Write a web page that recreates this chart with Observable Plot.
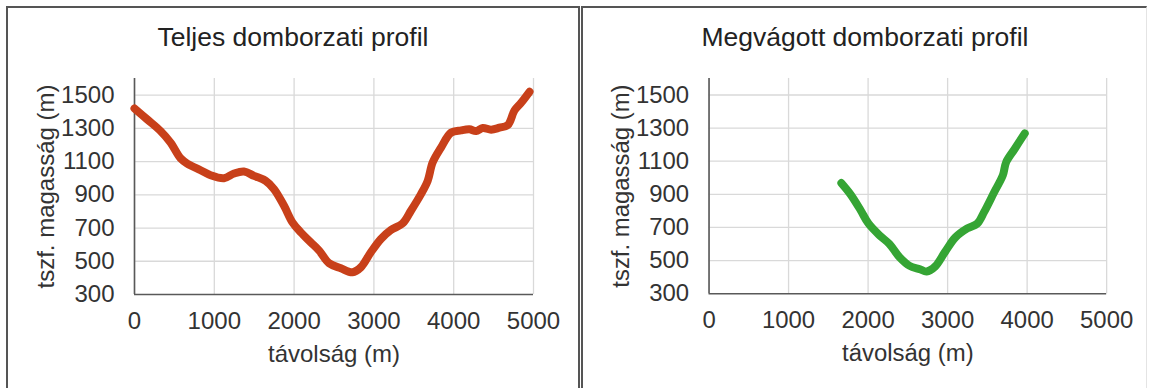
<!DOCTYPE html>
<html>
<head>
<meta charset="utf-8">
<script src="https://cdn.jsdelivr.net/npm/d3@7"></script>
<script src="https://cdn.jsdelivr.net/npm/@observablehq/plot@0.6"></script>
<style>
  html, body { margin: 0; padding: 0; background: #fff; }
  body { position: relative; width: 1153px; height: 388px; overflow: hidden; font-family: "Liberation Sans", Arial, sans-serif; }
  .panel { position: absolute; top: 6px; height: 400px; box-sizing: border-box; border-top: 2px solid #555; }
  .title { position: absolute; top: 24px; font-size: 26.5px; line-height: 1; color: #222; text-align: center; white-space: nowrap; }
  .chart { position: absolute; top: 60px; }
  .chart svg { overflow: visible; }
</style>
</head>
<body>
<div class="panel" style="left:6px;width:574px;border-left:2px solid #555;border-right:2px solid #555;"></div>
<div class="panel" style="left:581px;width:566px;border-left:2px solid #555;border-right:1px solid #e4e4e4;"></div>
<div id="t1" class="title" style="left:0;width:586px;"></div>
<div id="t2" class="title" style="left:575px;width:580px;"></div>
<div id="c1" class="chart" style="left:0;"></div>
<div id="c2" class="chart" style="left:575px;"></div>
<script>
// ---- data ----
const titleLeft = "Teljes domborzati profil";
const titleRight = "Megvágott domborzati profil";
const xLabel = "távolság (m)";
const yLabel = "tszf. magasság (m)";
const xTicks = [0, 1000, 2000, 3000, 4000, 5000];
const yTicks = [300, 500, 700, 900, 1100, 1300, 1500];

const leftDist = [0, 159, 326, 452, 577, 661, 828, 954, 1121, 1247, 1372, 1498, 1644, 1749, 1874, 1979, 2084, 2209, 2314, 2439, 2586, 2732, 2837, 2962, 3088, 3213, 3360, 3464, 3590, 3674, 3736, 3841, 3967, 4092, 4197, 4280, 4364, 4469, 4573, 4678, 4762, 4845, 4950];
const leftElev = [1420, 1354, 1284, 1214, 1120, 1088, 1048, 1018, 1000, 1028, 1040, 1014, 984, 934, 834, 734, 674, 614, 564, 488, 458, 434, 464, 554, 634, 688, 728, 804, 904, 984, 1094, 1184, 1274, 1288, 1294, 1284, 1302, 1292, 1304, 1320, 1408, 1454, 1520];

const rightDist = [1664, 1779, 1906, 2004, 2140, 2268, 2396, 2523, 2651, 2736, 2843, 2970, 3098, 3247, 3374, 3460, 3587, 3694, 3736, 3843, 3970];
const rightElev = [968, 900, 804, 724, 654, 600, 520, 468, 448, 434, 464, 554, 640, 694, 724, 794, 914, 1014, 1094, 1174, 1268];

const leftColor = "#c8401a";
const rightColor = "#35a534";

function profile(dist, elev, color) {
  return Plot.plot({
    width: 580,
    height: 328,
    marginLeft: 134,
    marginRight: 47,
    marginTop: 18,
    marginBottom: 94,
    style: { fontFamily: "'Liberation Sans', Arial, sans-serif", fontSize: "24px", color: "#333", background: "transparent", overflow: "visible" },
    x: { domain: [0, 5000] },
    y: { domain: [300, 1600] },
    marks: [
      Plot.gridX(xTicks, { stroke: "#d9d9d9", strokeOpacity: 1, strokeWidth: 1.3 }),
      Plot.gridY(yTicks.filter(d => d > 300), { stroke: "#d9d9d9", strokeOpacity: 1, strokeWidth: 1.3 }),
      Plot.axisX(xTicks, { tickSize: 0, tickPadding: 17, fontSize: 24, label: null, tickFormat: d => String(d) }),
      Plot.axisY(yTicks, { tickSize: 0, tickPadding: 20, fontSize: 24, label: null, tickFormat: d => String(d) }),
      Plot.ruleX([0], { stroke: "#595959", strokeWidth: 1.6 }),
      Plot.ruleY([300], { stroke: "#595959", strokeWidth: 1.6 }),
      Plot.text([xLabel], { frameAnchor: "bottom", dy: 60, lineAnchor: "middle", textAnchor: "middle", fontSize: 24, fill: "#333" }),
      Plot.text([yLabel], { frameAnchor: "left", dx: -88, rotate: -90, lineAnchor: "middle", textAnchor: "middle", fontSize: 24, fill: "#333" }),
      Plot.line(dist, { x: dist, y: elev, stroke: color, strokeWidth: 8, strokeLinecap: "round", strokeLinejoin: "round", curve: "catmull-rom" })
    ]
  });
}

document.getElementById("t1").textContent = titleLeft;
document.getElementById("t2").textContent = titleRight;
document.getElementById("c1").appendChild(profile(leftDist, leftElev, leftColor));
document.getElementById("c2").appendChild(profile(rightDist, rightElev, rightColor));
</script>
</body>
</html>
